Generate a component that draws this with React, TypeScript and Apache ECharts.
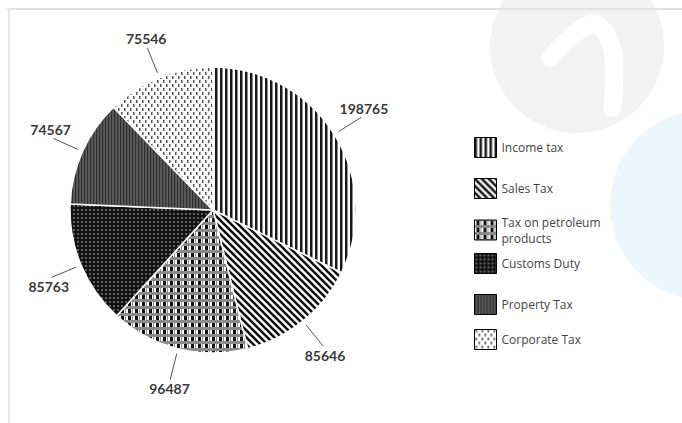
import React, { useEffect, useRef } from "react";
import * as echarts from "echarts";

const categories = [
  "Income tax",
  "Sales Tax",
  "Tax on petroleum\nproducts",
  "Customs Duty",
  "Property Tax",
  "Corporate Tax",
];
const values = [198765, 85646, 96487, 85763, 74567, 75546];

// legend item tops (layout)
const legendTops = [137, 178, 214, 253, 294, 329];

type Painter = (c: CanvasRenderingContext2D) => void;
function makePattern(w: number, h: number, paint: Painter) {
  const cv = document.createElement("canvas");
  cv.width = w;
  cv.height = h;
  const ctx = cv.getContext("2d")!;
  paint(ctx);
  return { image: cv, repeat: "repeat" } as any;
}

function buildPatterns() {
  const income = makePattern(5, 5, (c) => {
    c.fillStyle = "#fff";
    c.fillRect(0, 0, 5, 5);
    c.fillStyle = "#1a1a1a";
    c.fillRect(0, 0, 2.5, 5);
  });
  const sales = makePattern(7, 7, (c) => {
    c.fillStyle = "#fff";
    c.fillRect(0, 0, 7, 7);
    c.strokeStyle = "#111";
    c.lineWidth = 2.6;
    for (const k of [-7, 0, 7]) {
      c.beginPath();
      c.moveTo(k - 1, -1);
      c.lineTo(k + 8, 8);
      c.stroke();
    }
  });
  const petroleum = makePattern(7, 7, (c) => {
    c.fillStyle = "#8a8a8a";
    c.fillRect(0, 0, 7, 7);
    c.fillStyle = "#fff";
    c.fillRect(0, 1, 7, 4);
    c.fillStyle = "#111";
    c.fillRect(2, 1, 3, 4);
    c.fillStyle = "#8a8a8a";
    c.fillRect(6, 0, 1, 7);
  });
  const customs = makePattern(4, 4, (c) => {
    c.fillStyle = "#121212";
    c.fillRect(0, 0, 4, 4);
    c.fillStyle = "#5e5e5e";
    c.fillRect(1, 1, 2, 2);
  });
  const property = makePattern(3, 3, (c) => {
    c.fillStyle = "#5c5c5c";
    c.fillRect(0, 0, 3, 3);
    c.fillStyle = "#2e2e2e";
    c.fillRect(0, 0, 1.2, 3);
  });
  const corporate = makePattern(6, 8, (c) => {
    c.fillStyle = "#fff";
    c.fillRect(0, 0, 6, 8);
    c.fillStyle = "#555";
    c.fillRect(1, 0, 1.5, 3);
    c.fillRect(4, 4, 1.5, 3);
  });
  return [income, sales, petroleum, customs, property, corporate];
}

export default function App() {
  const ref = useRef<HTMLDivElement>(null);
  useEffect(() => {
    if (!ref.current) return;
    const chart = echarts.init(ref.current, null, { renderer: "svg" });
    const patterns = buildPatterns();
    const data = categories.map((name, i) => ({
      name,
      value: values[i],
      itemStyle: { color: patterns[i] },
    }));
    chart.setOption({
      animation: false,
      backgroundColor: "#fff",
      graphic: [
        { type: "circle", z: -10, shape: { cx: 577, cy: 46, r: 87 }, style: { fill: "#f2f2f2" } },
        {
          type: "polyline",
          z: -9,
          shape: { points: [[550, 58], [592, 24], [612, 48], [612, 108]], smooth: 0.4 },
          style: { stroke: "#fff", lineWidth: 18, fill: null, lineCap: "round" },
        },
        { type: "circle", z: -10, shape: { cx: 705, cy: 205, r: 95 }, style: { fill: "#ecf7fd" } },
        { type: "line", z: -8, shape: { x1: 7, y1: 9, x2: 682, y2: 9 }, style: { stroke: "#e2e2e2", lineWidth: 2 } },
        { type: "line", z: -8, shape: { x1: 9, y1: 9, x2: 9, y2: 423 }, style: { stroke: "#e6e6e6", lineWidth: 2 } },
      ],
      legend: categories.map((n, i) => ({
        data: [n],
        orient: "vertical",
        left: 474,
        top: legendTops[i],
        padding: 0,
        itemWidth: 22,
        itemHeight: 20,
        icon: "rect",
        selectedMode: false,
        itemStyle: { borderColor: "#000", borderWidth: 1 },
        textStyle: { fontFamily: "Open Sans", fontSize: 12, color: "#444", lineHeight: 16 },
      })),
      series: [
        {
          type: "pie",
          center: [213, 210],
          radius: 143,
          startAngle: 90,
          clockwise: true,
          itemStyle: { borderColor: "#fff", borderWidth: 1.5 },
          label: {
            show: true,
            formatter: "{c}",
            fontFamily: "Lato",
            fontWeight: "bold",
            fontSize: 14,
            color: "#3a3a3a",
            overflow: "none",
          },
          labelLine: { show: true, length: 32, length2: 0, lineStyle: { color: "#555", width: 1 } },
          labelLayout: (params: any) => {
            const pts = params.labelLinePoints;
            if (!pts) return {};
            const p0 = pts[0];
            const p1 = pts[1];
            const dx = p1[0] - p0[0];
            const dy = p1[1] - p0[1];
            const len = Math.hypot(dx, dy) || 1;
            const ux = dx / len;
            const uy = dy / len;
            const h = params.labelRect.height;
            return {
              x: p1[0] + ux * 3,
              y: p1[1] + Math.sign(uy) * (h / 2 + 2),
              align: "center",
              verticalAlign: "middle",
              labelLinePoints: [[p0[0] + ux * 5, p0[1] + uy * 5], p1, p1],
            };
          },
          data,
        },
      ],
    });
    return () => chart.dispose();
  }, []);
  return (
    <div
      ref={ref}
      style={{ position: "absolute", left: 0, top: 0, width: 682, height: 423 }}
    />
  );
}
